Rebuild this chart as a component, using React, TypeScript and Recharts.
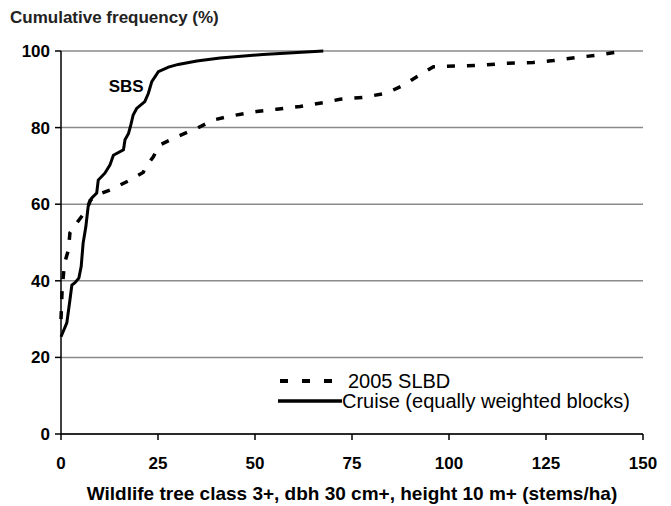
import React from "react";
import {
  LineChart,
  Line,
  XAxis,
  YAxis,
  CartesianGrid,
  Legend,
  ReferenceDot,
} from "recharts";

// Cruise (equally weighted blocks), solid line
const cruiseX = [
  0, 1.5, 2.3, 2.8, 3.6, 4.6, 5.2, 5.7, 6.4, 7.0, 7.9, 9.2, 9.6, 11.3, 12.6,
  13.5, 16.1, 16.5, 17.4, 18.0, 18.6, 19.5, 21.6, 22.5, 23.4, 25.1, 27.7, 30.2,
  35, 41, 52, 67.6,
];
const cruiseY = [
  25.4, 29, 35, 38.9, 39.5, 40.7, 43.7, 49.8, 54.1, 59.4, 61.6, 62.9, 66.3,
  68.1, 70.2, 72.8, 74.2, 76.8, 78.5, 80.7, 83.3, 85, 86.8, 88.9, 92, 94.6,
  95.8, 96.5, 97.4, 98.2, 99.1, 100,
];

// 2005 SLBD, dashed line
const slbdX = [
  0, 0.3, 0.9, 1.9, 2.3, 4.3, 6.6, 7.5, 9.5, 12.6, 17.8, 21.2, 21.6, 23.8,
  25.5, 29.8, 35, 39.3, 43.6, 50.4, 55.6, 61.6, 67.6, 71.9, 77.9, 83.9, 88.3,
  91.7, 96, 102, 108.8, 114.9, 121.7, 126.9, 132.9, 138, 145.4,
];
const slbdY = [
  30, 38, 44.6, 48, 52.5, 55.4, 58.5, 61, 62.5, 63.7, 66.3, 68.3, 69.4, 72.4,
  75.5, 77.6, 79.8, 82, 83, 84.2, 84.8, 85.5, 86.5, 87.4, 87.9, 89, 91.1, 93.3,
  95.9, 96.1, 96.3, 96.8, 97, 97.5, 98.3, 98.9, 100,
];

const xTicks = [0, 25, 50, 75, 100, 125, 150];
const yTicks = [0, 20, 40, 60, 80, 100];

const cruise = cruiseX.map((x, i) => ({ x, y: cruiseY[i] }));
const slbd = slbdX.map((x, i) => ({ x, y: slbdY[i] }));

const font = "'Liberation Sans', Arial, sans-serif";

function ChartLegend() {
  return (
    <div style={{ fontFamily: font, fontSize: 20, color: "#000", lineHeight: "20px" }}>
      <div style={{ display: "flex", alignItems: "center", height: 20 }}>
        <svg width={70} height={10}>
          <line
            x1={2}
            y1={5}
            x2={58}
            y2={5}
            stroke="#000"
            strokeWidth={4}
            strokeDasharray="8 14"
          />
        </svg>
        <span>2005 SLBD</span>
      </div>
      <div style={{ display: "flex", alignItems: "center", height: 20 }}>
        <svg width={64} height={10}>
          <line x1={0} y1={5} x2={64} y2={5} stroke="#000" strokeWidth={3.5} />
        </svg>
        <span>Cruise (equally weighted blocks)</span>
      </div>
    </div>
  );
}

export default function App() {
  return (
    <div
      style={{
        position: "absolute",
        left: 0,
        top: 0,
        width: 671,
        height: 506,
        background: "#fff",
        fontFamily: font,
      }}
    >
      <div
        style={{
          position: "absolute",
          left: 10,
          top: 8,
          fontSize: 17,
          fontWeight: 700,
          color: "#222",
        }}
      >
        Cumulative frequency (%)
      </div>
      <LineChart
        width={671}
        height={506}
        margin={{ top: 51, right: 28, left: 0, bottom: 0 }}
      >
        <CartesianGrid vertical={false} stroke="#8a8a8a" strokeWidth={1.5} />
        <XAxis
          type="number"
          dataKey="x"
          domain={[0, 150]}
          ticks={xTicks}
          height={72}
          stroke="#000"
          strokeWidth={1.5}
          tickSize={6}
          tickMargin={17}
          tick={{ fill: "#000", fontSize: 17, fontWeight: 700, fontFamily: font }}
          label={{
            value: "Wildlife tree class 3+, dbh 30 cm+, height 10 m+ (stems/ha)",
            position: "insideBottom",
            offset: 6,
            fill: "#000",
            fontSize: 19,
            fontWeight: 700,
            fontFamily: font,
          }}
        />
        <YAxis
          type="number"
          domain={[0, 100]}
          ticks={yTicks}
          width={61}
          stroke="#000"
          strokeWidth={1.5}
          tickSize={6}
          tickMargin={5}
          tick={{ fill: "#000", fontSize: 17, fontWeight: 700, fontFamily: font }}
        />
        <Line
          data={slbd}
          dataKey="y"
          type="linear"
          stroke="#000"
          strokeWidth={3.5}
          strokeDasharray="8 12"
          dot={false}
          isAnimationActive={false}
          legendType="none"
        />
        <Line
          data={cruise}
          dataKey="y"
          type="linear"
          stroke="#000"
          strokeWidth={3}
          dot={false}
          isAnimationActive={false}
          legendType="none"
        />
        <ReferenceDot
          x={16.8}
          y={90.9}
          r={0}
          stroke="none"
          label={{
            value: "SBS",
            position: "center",
            fill: "#000",
            fontSize: 17,
            fontWeight: 700,
            fontFamily: font,
          }}
        />
        <Legend
          layout="vertical"
          align="center"
          verticalAlign="middle"
          content={() => <ChartLegend />}
          wrapperStyle={{ position: "absolute", left: 278, top: 371, width: 390 }}
        />
      </LineChart>
    </div>
  );
}
